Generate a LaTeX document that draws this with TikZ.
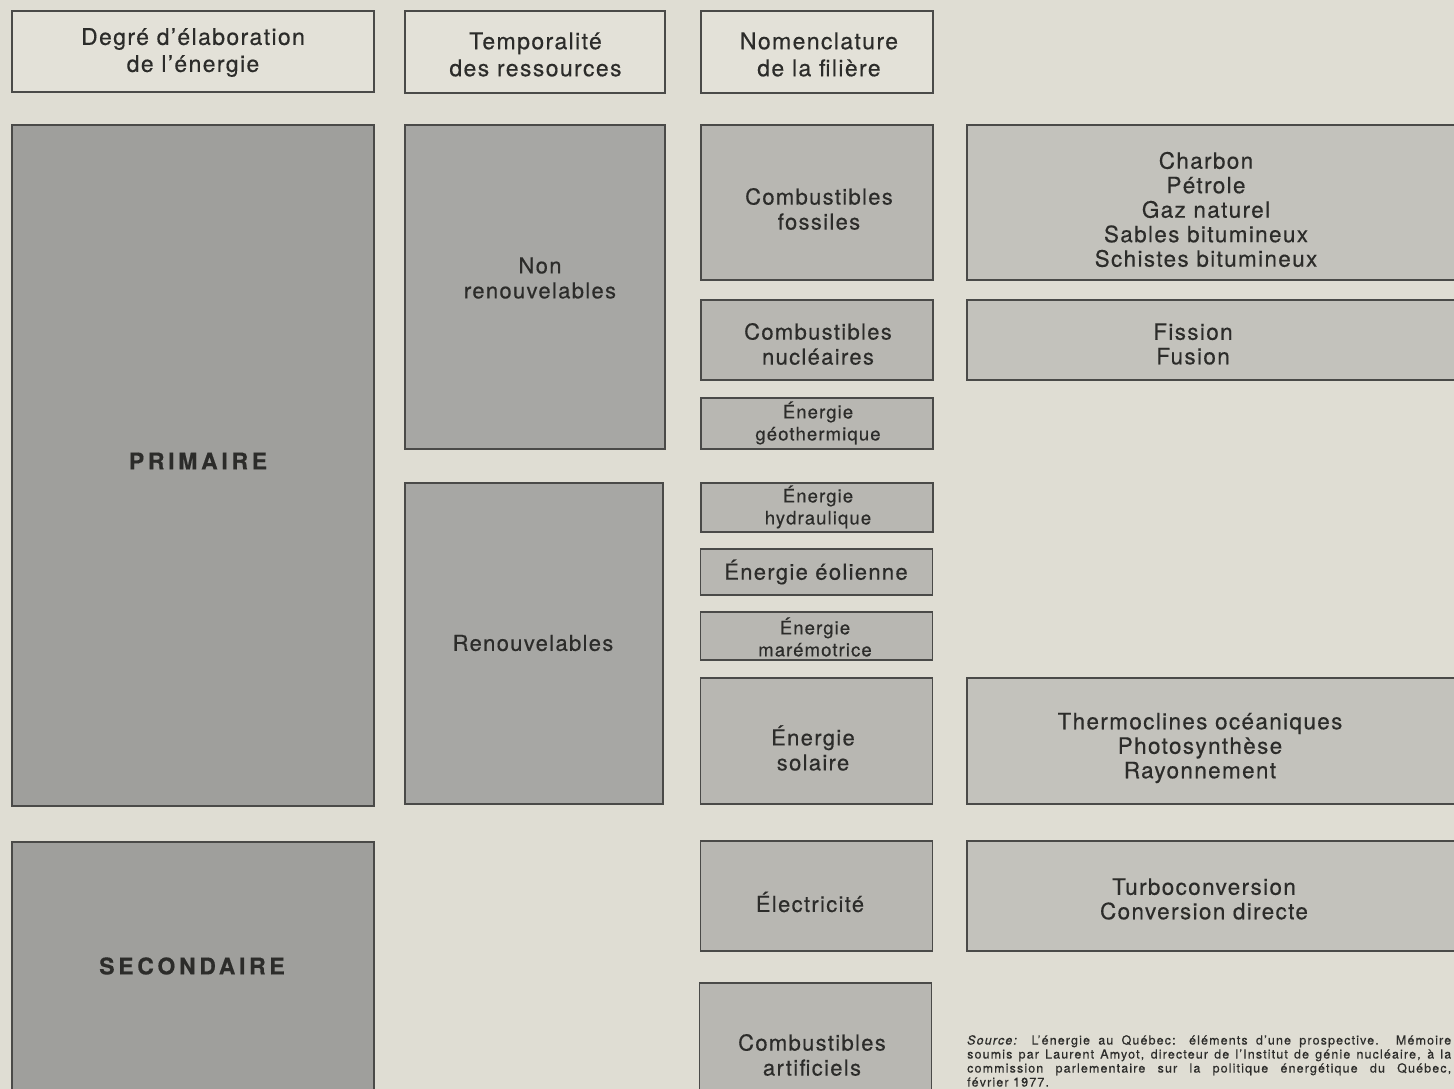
\documentclass[tikz,border=0pt]{standalone}
\usepackage{fontspec}
\setmainfont{TeX Gyre Heros}[LetterSpace=6,FakeBold=0.4]
\usepackage{xcolor}
\usepackage{tikz}

\definecolor{fond}{HTML}{DFDDD3}
\definecolor{trait}{HTML}{4A4A48}
\definecolor{encre}{HTML}{2C2C2A}
\definecolor{grisA}{HTML}{9F9F9C}
\definecolor{grisB}{HTML}{A7A7A4}
\definecolor{grisC}{HTML}{B8B7B2}
\definecolor{grisD}{HTML}{C3C2BC}

\begin{document}
\begin{tikzpicture}[x=1pt,y=-1pt,
	boite/.style={draw=trait,line width=1.6pt,inner sep=0pt},
	tete/.style={boite,fill=fond!88!white},
	degre/.style={boite,fill=grisA,minimum width=362},
	temps/.style={boite,fill=grisB},
	filiere/.style={boite,fill=grisC,minimum width=232},
	detail/.style={boite,fill=grisD,minimum width=493},
	texte/.style={text=encre,align=center,inner sep=0pt,font=\fontsize{22}{25}\selectfont},
	grand/.style={texte,font=\fontsize{23}{27}\selectfont},
	gras/.style={texte,font=\fontsize{23}{27}\selectfont\bfseries\addfontfeature{LetterSpace=16}},
	petit/.style={texte,font=\fontsize{18.5}{22}\selectfont},
	liste/.style={texte,font=\fontsize{22.5}{24.5}\selectfont}]
	\useasboundingbox (0,0) rectangle (1454,1089);
	\fill[fond] (0,0) rectangle (1454,1089);
	\clip (0,0) rectangle (1454,1089);

	% en-tetes
	\node[tete,minimum width=362,minimum height=81] (tdegre) at (193,51.5) {};
	\node[tete,minimum width=260,minimum height=82] (ttemps) at (535,52) {};
	\node[tete,minimum width=232,minimum height=82] (tfiliere) at (817,52) {};
	\node[grand] (ldegre) at (193,52.5) {Degré d'élaboration\\de l'énergie};
	\node[grand] (ltemps) at (535.5,54.5) {Temporalité\\des ressources};
	\node[grand] (lfiliere) at (819,54.5) {Nomenclature\\de la filière};

	% degre d'elaboration
	\node[degre,minimum height=681] (primaire) at (193,465.5) {};
	\node[degre,minimum height=248] (secondaire) at (193,966) {};
	\node[gras] (lprimaire) at (198,461) {PRIMAIRE};
	\node[gras] (lsecondaire) at (192,966) {SECONDAIRE};

	% temporalite
	\node[temps,minimum width=260,minimum height=324] (nonren) at (535,287) {};
	\node[temps,minimum width=258,minimum height=321] (ren) at (534,643.5) {};
	\node[texte] (lnonren) at (540,278) {Non\\renouvelables};
	\node[texte] (lren) at (533,643) {Renouvelables};

	% filieres
	\node[filiere,minimum height=155] (fossiles) at (817,202.5) {};
	\node[filiere,minimum height=80] (nucleaires) at (817,340) {};
	\node[filiere,minimum height=51] (geo) at (817,423.5) {};
	\node[filiere,minimum height=49] (hydro) at (817,507.5) {};
	\node[filiere,minimum height=46] (eol) at (816.5,572) {};
	\node[filiere,minimum height=48] (mar) at (816.5,636) {};
	\node[filiere,minimum height=126] (solaire) at (816.5,741) {};
	\node[filiere,minimum height=110] (elec) at (816.5,896) {};
	\node[filiere,minimum height=144] (artif) at (815.5,1055) {};
	\node[texte] (lfossiles) at (819,209) {Combustibles\\fossiles};
	\node[texte] (lnucleaires) at (818,344) {Combustibles\\nucléaires};
	\node[petit] (lgeo) at (818,423) {Énergie\\géothermique};
	\node[petit] (lhydro) at (818,507) {Énergie\\hydraulique};
	\node[texte] (leol) at (816,572) {Énergie éolienne};
	\node[petit] (lmar) at (815,637) {Énergie\\marémotrice};
	\node[texte] (lsolaire) at (813,748) {Énergie\\solaire};
	\node[texte] (lelec) at (810,902) {Électricité};
	\node[texte] (lartif) at (812,1055) {Combustibles\\artificiels};

	% details
	\node[detail,minimum height=155] (dfossiles) at (1213.5,202.5) {};
	\node[detail,minimum height=80] (dnucleaires) at (1213.5,340) {};
	\node[detail,minimum height=126] (dsolaire) at (1213.5,741) {};
	\node[detail,minimum height=110] (delec) at (1213.5,896) {};
	\node[liste] (ldfossiles) at (1206,209.5) {Charbon\\Pétrole\\Gaz naturel\\Sables bitumineux\\Schistes bitumineux};
	\node[liste] (ldnucleaires) at (1193,344) {Fission\\Fusion};
	\node[liste] (ldsolaire) at (1200,748) {Thermoclines océaniques\\Photosynthèse\\Rayonnement};
	\node[liste] (ldelec) at (1204,899) {Turboconversion\\Conversion directe};

	\node[text=encre,anchor=north west,inner sep=0pt,text width=484,align=justify,
		font=\fontsize{12.5}{14}\selectfont\addfontfeature{LetterSpace=9}] (source) at (967,1035)
		{\textit{Source:} L'énergie au Québec: éléments d'une prospective. Mémoire\linebreak
		soumis par Laurent Amyot, directeur de l'Institut de génie nucléaire, à la\linebreak
		commission parlementaire sur la politique énergétique du Québec,\linebreak
		février 1977.};
\end{tikzpicture}
\end{document}
